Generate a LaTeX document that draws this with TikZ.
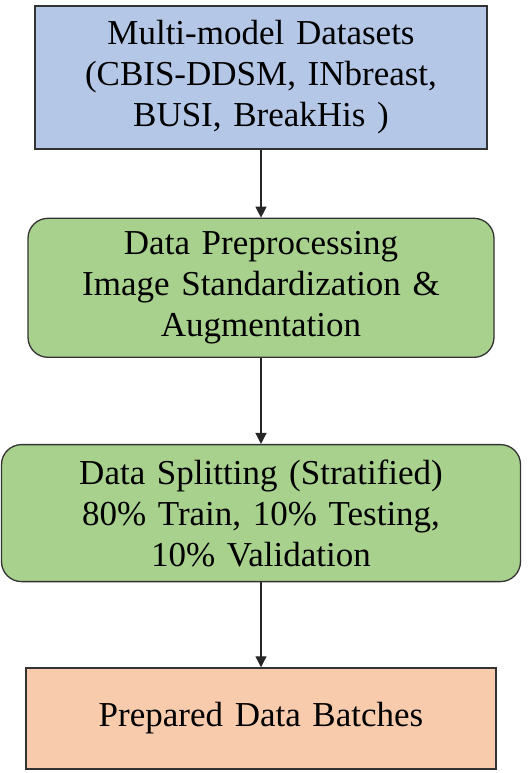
\documentclass[tikz,border=0pt]{standalone}
\usepackage{fontspec}
\setmainfont{Liberation Serif}
\usetikzlibrary{positioning,arrows.meta}

\definecolor{dsblue}{HTML}{B4C7E7}
\definecolor{prepgreen}{HTML}{A9D18E}
\definecolor{batchorange}{HTML}{F8CBAD}

\tikzset{
  stagebox/.style={draw=black!80,line width=1.3pt,align=center,inner sep=4pt,
    font=\fontsize{35}{41}\selectfont},
  roundbox/.style={stagebox,rounded corners=20pt},
  flow/.style={-{Triangle[length=11pt,width=11pt]},line width=1.3pt,black!85}
}

\begin{document}
\begin{tikzpicture}[x=1pt,y=1pt]
      \useasboundingbox (0,0) rectangle (529,-773);

      \node[stagebox,fill=dsblue,minimum width=452pt,minimum height=143pt,text width=440pt] at (261,-77.5) (1)
        {Multi-model Datasets\\(CBIS-DDSM, INbreast,\\BUSI, BreakHis )};
      \node[roundbox,fill=prepgreen,minimum width=466pt,minimum height=139pt,text width=454pt,below=68pt of 1] (2)
        {Data Preprocessing\\Image Standardization \&\\Augmentation};
      \node[roundbox,fill=prepgreen,minimum width=519pt,minimum height=137pt,text width=507pt,below=86pt of 2] (3)
        {Data Splitting (Stratified)\\80\% Train, 10\% Testing,\\10\% Validation};
      \node[stagebox,fill=batchorange,minimum width=470pt,minimum height=101pt,text width=458pt,below=85pt of 3] (4)
        {Prepared Data Batches};

      \draw[flow] (1) -- (2);
      \draw[flow] (2) -- (3);
      \draw[flow] (3) -- (4);
    \end{tikzpicture}
\end{document}
